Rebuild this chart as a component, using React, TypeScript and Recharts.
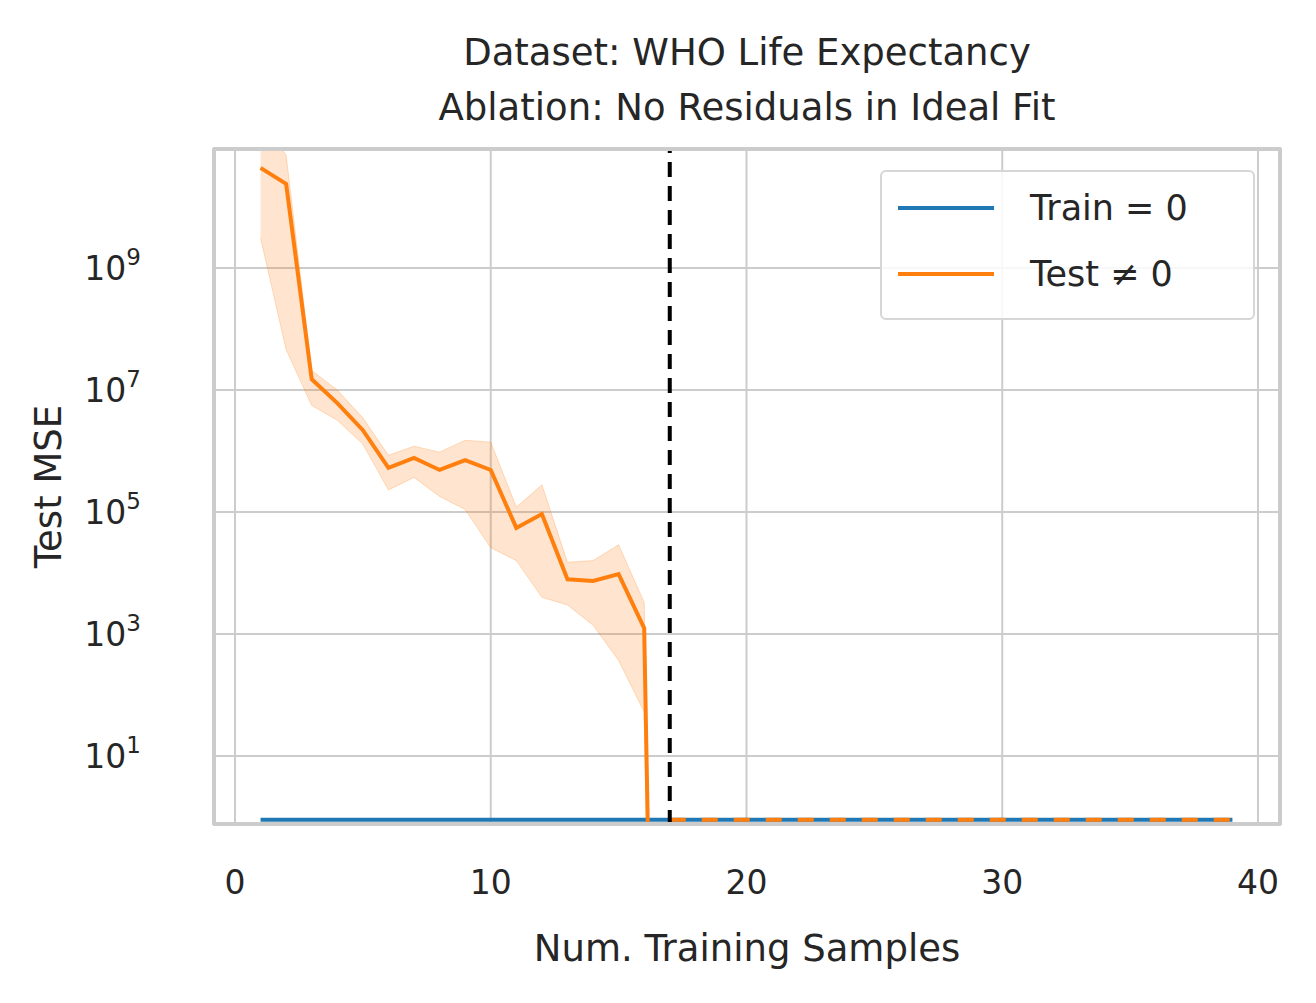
import { Area, CartesianGrid, ComposedChart, Line, ReferenceLine, XAxis, YAxis } from 'recharts';

const FLOOR = 0.9;
const steps = [1, 2, 3, 4, 5, 6, 7, 8, 9, 10, 11, 12, 13, 14, 15, 16, 17];
const testMean = [4.4e10, 2.4e10, 1.5e7, 6.1e6, 2.2e6, 5.3e5, 7.7e5, 4.9e5, 7.1e5, 4.9e5, 5.5e4, 9.3e4, 7.9e3, 7.4e3, 9.6e3, 1.25e3, 1e-20];
const testLow = [3.1e9, 4.6e7, 5.6e6, 3.2e6, 1.3e6, 2.3e5, 3.7e5, 1.8e5, 1.1e5, 2.6e4, 1.6e4, 4e3, 3e3, 1.4e3, 3.7e2, 53, 1e-20];
const testHigh = [3e11, 7e10, 2.1e7, 1e7, 3.5e6, 8.5e5, 1.2e6, 9.6e5, 1.5e6, 1.4e6, 1.2e5, 2.8e5, 1.5e4, 1.6e4, 2.9e4, 3.3e3, 1e-20];
const allSteps = Array.from({ length: 39 }, (_, i) => i + 1);
const yTicks = [10, 1e3, 1e5, 1e7, 1e9];
const xTicks = [0, 10, 20, 30, 40];

const data = allSteps.map((x) => {
  const i = steps.indexOf(x);
  return {
    x,
    train: FLOOR,
    test: i >= 0 ? testMean[i] : undefined,
    band: i >= 0 ? [testLow[i], testHigh[i]] : undefined,
    tail: x >= 17 ? FLOOR : undefined,
  };
});

const FONT = '"DejaVu Sans", sans-serif';
const INK = '#262626';

function YTick({ x, y, payload }: any) {
  const exp = Math.round(Math.log10(payload.value));
  return (
    <text x={x} y={y + 12} textAnchor="end" fill={INK} fontFamily={FONT} fontSize={33}>
      10<tspan dy={-15} fontSize={23}>{exp}</tspan>
    </text>
  );
}

export default function App() {
  return (
    <div style={{ position: 'absolute', left: 0, top: 0, width: 1316, height: 1003, background: '#fff', fontFamily: FONT }}>
      <div style={{ position: 'absolute', left: 213, width: 1068, top: 25, textAlign: 'center', fontSize: 37, color: INK, lineHeight: '55px' }}>
        Dataset: WHO Life Expectancy<br />Ablation: No Residuals in Ideal Fit
      </div>
      <ComposedChart width={1316} height={1003} data={data} margin={{ top: 148, right: 35, left: 0, bottom: 0 }}>
        <CartesianGrid stroke="#cccccc" strokeWidth={2} />
        <XAxis
          dataKey="x"
          type="number"
          domain={[-0.86, 40.9]}
          ticks={xTicks}
          allowDataOverflow
          height={178}
          tickLine={false}
          axisLine={false}
          tick={{ fill: INK, fontSize: 33, fontFamily: FONT }}
          tickMargin={40}
          label={{ value: 'Num. Training Samples', position: 'insideBottom', offset: 42, fill: INK, fontSize: 37, fontFamily: FONT }}
        />
        <YAxis
          type="number"
          scale="log"
          domain={[0.74, 9.3e10]}
          ticks={yTicks}
          allowDataOverflow
          width={213}
          tickLine={false}
          axisLine={false}
          tick={<YTick />}
          tickMargin={66}
          label={{ value: 'Test MSE', angle: -90, position: 'insideLeft', offset: 48, fill: INK, fontSize: 37, fontFamily: FONT, style: { textAnchor: 'middle' } }}
        />
        <Area dataKey="band" stroke="#ff7f0e" strokeOpacity={0.25} fill="#ff7f0e" fillOpacity={0.2} isAnimationActive={false} connectNulls={false} />
        <Line dataKey="train" stroke="#1f77b4" strokeWidth={4} dot={false} isAnimationActive={false} />
        <Line dataKey="test" stroke="#ff7f0e" strokeWidth={4} dot={false} isAnimationActive={false} />
        <Line dataKey="tail" stroke="#ff7f0e" strokeWidth={4} strokeDasharray="16 16" dot={false} isAnimationActive={false} />
        <ReferenceLine x={17} stroke="#000" strokeWidth={4} strokeDasharray="15 9" />
      </ComposedChart>
      <div style={{ position: 'absolute', left: 213, top: 148, width: 1068, height: 677, border: '3px solid #cccccc', boxSizing: 'border-box', pointerEvents: 'none' }} />
      <div style={{ position: 'absolute', left: 880, top: 170, width: 375, height: 150, border: '2px solid #d6d6d6', borderRadius: 6, background: 'rgba(255,255,255,0.85)', boxSizing: 'border-box', fontSize: 35, color: INK }}>
        {[['#1f77b4', 'Train = 0'], ['#ff7f0e', 'Test \u2260 0']].map(([c, t], i) => (
          <div key={t} style={{ position: 'absolute', left: 16, top: 16 + i * 66, display: 'flex', alignItems: 'center' }}>
            <span style={{ display: 'inline-block', width: 96, height: 4, background: c, marginRight: 36 }} />
            <span>{t}</span>
          </div>
        ))}
      </div>
    </div>
  );
}
